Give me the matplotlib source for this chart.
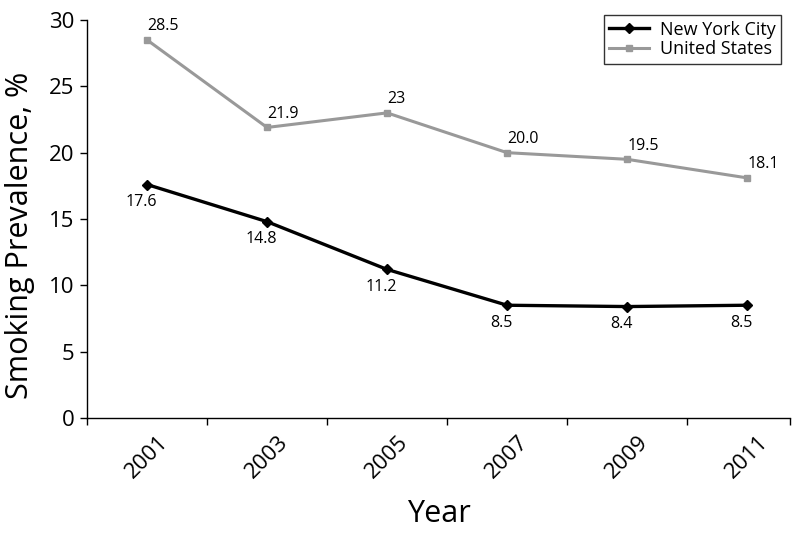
import numpy as np
import matplotlib
matplotlib.use('Agg')
import matplotlib.pyplot as plt

years = ['2001', '2003', '2005', '2007', '2009', '2011']
nyc = [17.6, 14.8, 11.2, 8.5, 8.4, 8.5]
us = [28.5, 21.9, 23.0, 20.0, 19.5, 18.1]
nyc_labels = ['17.6', '14.8', '11.2', '8.5', '8.4', '8.5']
us_labels = ['28.5', '21.9', '23', '20.0', '19.5', '18.1']

plt.rcParams['font.family'] = ['Open Sans', 'DejaVu Sans']

fig = plt.figure(figsize=(7.94, 5.35), dpi=100)
ax = fig.add_axes([0.1096, 0.2187, 0.8854, 0.7439])

x = np.arange(len(years))
ax.plot(x, nyc, color='black', lw=2.4, marker='D', ms=5, label='New York City')
ax.plot(x, us, color='#999999', lw=2.2, marker='s', ms=4.5, label='United States')

for xi, v, t in zip(x, us, us_labels):
    ax.annotate(t, (xi, v), xytext=(0, 4), textcoords='offset points',
                ha='left', va='bottom', fontsize=11.5)
for xi, v, t in zip(x, nyc, nyc_labels):
    ax.annotate(t, (xi, v), xytext=(-4, -7), textcoords='offset points',
                ha='center', va='top', fontsize=11.5)

right = 5.358
ax.set_xlim(-0.5, right)
ax.set_ylim(0, 30)
ax.set_yticks(np.arange(0, 31, 5))
ax.set_xticks(x)
ax.set_xticklabels(years, rotation=45, ha='center', fontsize=16)
ax.set_xticks(list(np.arange(-0.5, 5, 1.0)) + [right], minor=True)
ax.tick_params(axis='x', which='major', length=0, pad=10)
ax.tick_params(axis='x', which='minor', length=5, width=1, direction='out')
ax.tick_params(axis='y', length=5, width=1, labelsize=16, pad=4)

for s in ('top', 'right'):
    ax.spines[s].set_visible(False)
for s in ('left', 'bottom'):
    ax.spines[s].set_linewidth(1)

ax.set_ylabel('Smoking Prevalence, %', fontsize=22)
ax.yaxis.set_label_coords(-0.074, 0.46)
ax.set_xlabel('Year', fontsize=22, labelpad=12)

leg = ax.legend(loc='upper right', bbox_to_anchor=(1.0, 1.035), fontsize=13,
                frameon=True, fancybox=False, edgecolor='black',
                handlelength=2.2, borderpad=0.3, labelspacing=0.1,
                handletextpad=0.6)
leg.get_frame().set_linewidth(1)

fig.savefig('out.png', dpi=100)
